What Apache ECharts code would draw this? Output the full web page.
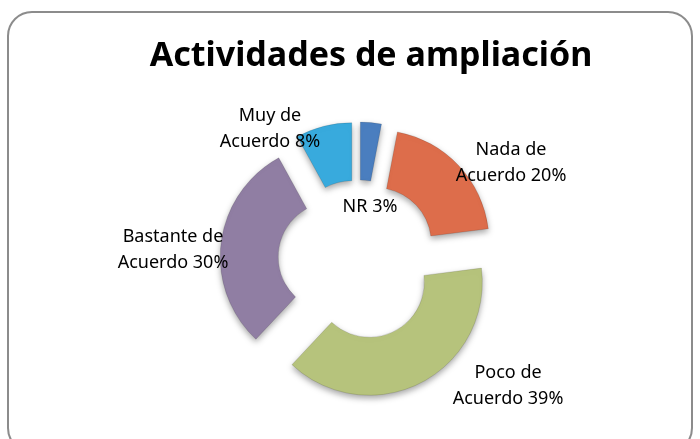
<!DOCTYPE html>
<html>
<head>
<meta charset="utf-8">
<script src="https://cdn.jsdelivr.net/npm/echarts@6/dist/echarts.min.js"></script>
<style>
  html, body { margin: 0; padding: 0; background: #fff; }
  #chart { width: 700px; height: 439px; }
</style>
</head>
<body>
<div id="chart"></div>
<script>
// data of the chart
const categories = ["NR", "Nada de\nAcuerdo", "Poco de\nAcuerdo", "Bastante de\nAcuerdo", "Muy de\nAcuerdo"];
const values = [3, 20, 39, 30, 8];
const colors = ["#4a7ebf", "#dd6d4b", "#b6c37c", "#907ea3", "#38aadd"];

// label centres (px), same order as categories
const labelPos = [[370, 207], [511, 163], [508, 386], [173, 250], [270, 129]];

let chart = echarts.init(document.getElementById("chart"));

// labels as text elements, text comes from the data arrays
let labels = categories.map((c, i) => ({
  type: "text",
  x: labelPos[i][0],
  y: labelPos[i][1],
  z: 10,
  style: {
    text: c + " " + values[i] + "%",
    fontFamily: "Noto Sans",
    fontSize: 18,
    lineHeight: 26,
    fill: "#000",
    align: "center",
    verticalAlign: "middle",
  },
}));

let option = {
  backgroundColor: "#fff",
  animation: false,
  title: {
    text: "Actividades de ampliación",
    left: 366,
    top: 34,
    textAlign: "center",
    textStyle: {
      fontFamily: "Noto Sans",
      fontWeight: "bold",
      fontSize: 34,
      color: "#000",
    },
  },
  graphic: [
    {
      type: "rect",
      shape: { x: 8, y: 12, width: 684, height: 440, r: 24 },
      style: { fill: "none", stroke: "#8c8c8c", lineWidth: 2 },
      z: -1,
    },
  ].concat(labels),
  series: [
    {
      type: "pie",
      center: [358, 260],
      radius: [55, 113],
      startAngle: 90,
      clockwise: true,
      selectedMode: "multiple",
      selectedOffset: 25,
      itemStyle: {
        shadowBlur: 6,
        shadowOffsetY: 3,
        shadowColor: "rgba(0,0,0,0.35)",
        borderColor: "rgba(0,0,0,0.12)",
        borderWidth: 1,
      },
      label: { show: false },
      labelLine: { show: false },
      emphasis: { disabled: true },
      data: categories.map((c, i) => ({
        name: c,
        value: values[i],
        selected: true,
        itemStyle: { color: colors[i] },
      })),
    },
  ],
};

chart.setOption(option);
</script>
</body>
</html>
